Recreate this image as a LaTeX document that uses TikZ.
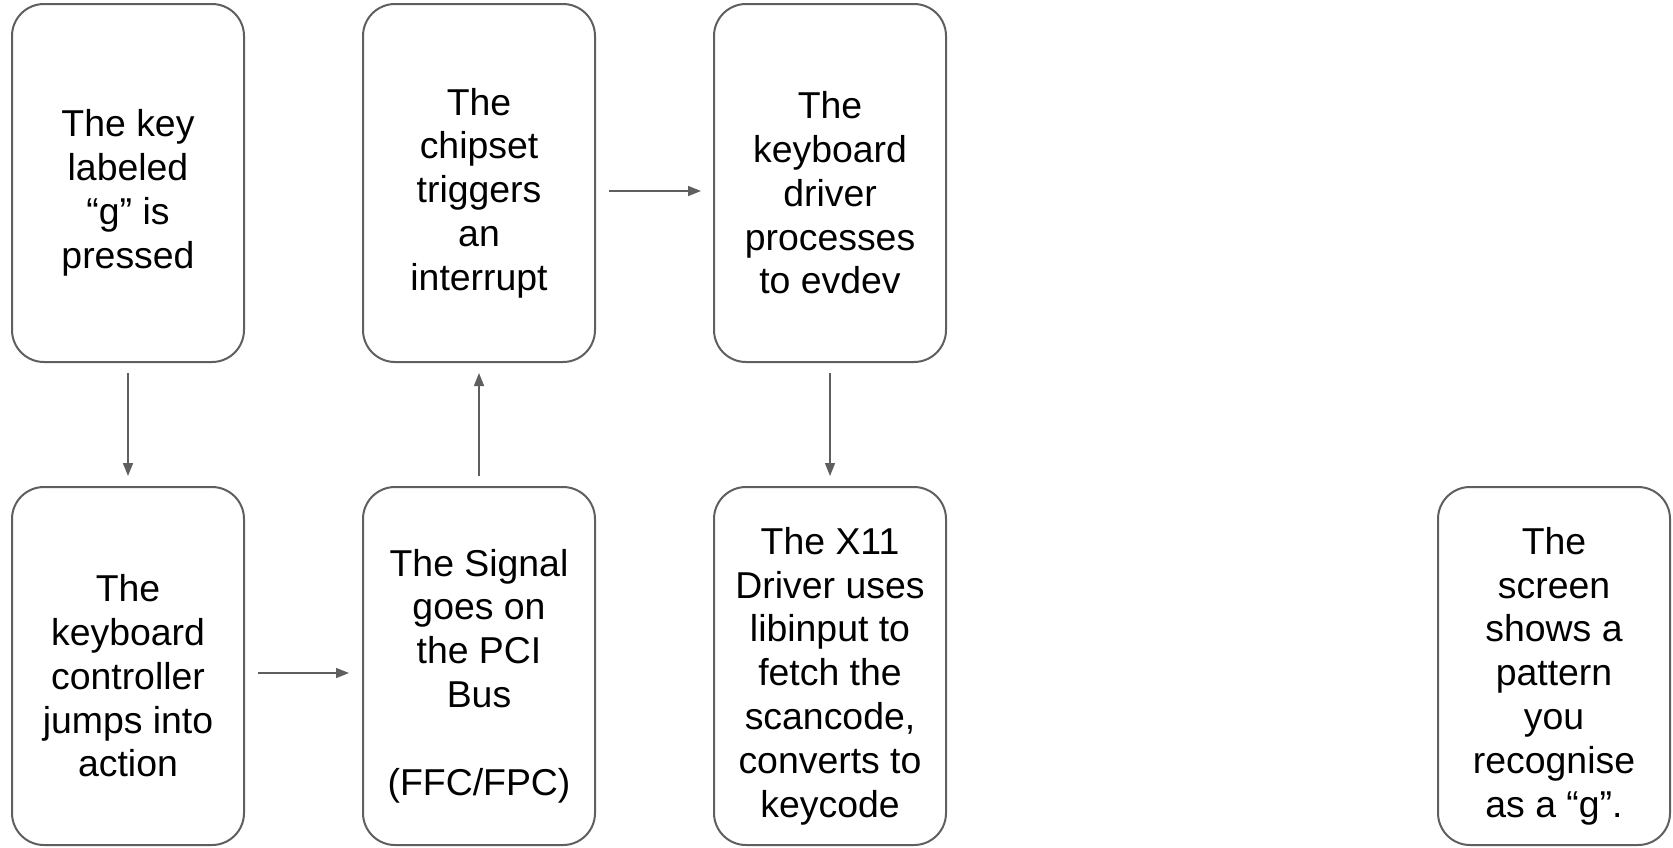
\documentclass[tikz,border=0pt]{standalone}
\usepackage{fontspec}
\setmainfont{Liberation Sans}
\usepackage{tikz}
\usetikzlibrary{positioning,calc,arrows.meta}
\definecolor{linegray}{RGB}{95,95,95}

\begin{document}
\begin{tikzpicture}[x=0.5pt,y=-0.5pt,
    box/.style={draw=linegray, line width=1pt, rounded corners=16pt,
        minimum width=116pt, minimum height=179pt, inner sep=0pt},
    txt/.style={align=center, inner sep=0pt, yshift=-5pt,
        font=\fontsize{18.7}{21.9}\selectfont},
    flow/.style={draw=linegray, line width=0.75pt,
        -{Triangle[length=6.5pt,width=5pt]}, shorten <=5pt, shorten >=5pt}]
    \useasboundingbox (0,0) rectangle (1673,847);
    \node[box] (key) at (128,183) {};
    \node[box] (chipset) at (479,183) {};
    \node[box] (kbddrv) at (830,183) {};
    \node[box] (ctrl) at (128,666) {};
    \node[box] (bus) at (479,666) {};
    \node[box] (xdrv) at (830,666) {};
    \node[box] (screen) at (1554,666) {};
    \node[txt] (key-t) at (key) {The key\\labeled\\“g” is\\pressed};
    \node[txt] (chipset-t) at (chipset) {The\\chipset\\triggers\\an\\interrupt};
    \node[txt] (kbddrv-t) at (kbddrv) {The\\keyboard\\driver\\processes\\to evdev};
    \node[txt] (ctrl-t) at (ctrl) {The\\keyboard\\controller\\jumps into\\action};
    \node[txt] (bus-t) at (bus) {The Signal\\goes on\\the PCI\\Bus\\[21.9pt](FFC/FPC)};
    \node[txt] (xdrv-t) at (xdrv) {The X11\\Driver uses\\libinput to\\fetch the\\scancode,\\converts to\\keycode};
    \node[txt] (screen-t) at (screen) {The\\screen\\shows a\\pattern\\you\\recognise\\as a “g”.};
    \draw[flow] (key) -- (ctrl);
    \draw[flow, shorten <=6.5pt, shorten >=6.5pt] ([yshift=-3.5pt]ctrl.east) -- ([yshift=-3.5pt]bus.west);
    \draw[flow] (bus) -- (chipset);
    \draw[flow, shorten <=6.5pt, shorten >=6pt] ([yshift=-4pt]chipset.east) -- ([yshift=-4pt]kbddrv.west);
    \draw[flow] (kbddrv) -- (xdrv);
\end{tikzpicture}
\end{document}
